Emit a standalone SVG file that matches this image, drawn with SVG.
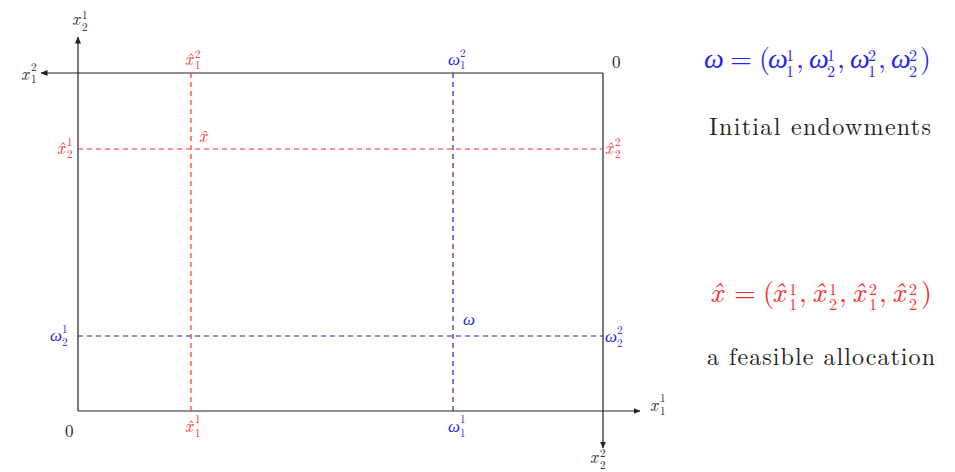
<svg xmlns="http://www.w3.org/2000/svg" width="955" height="472" viewBox="0 0 955 472">
<style>
.k{fill:#222;font-family:'Latin Modern Roman','Liberation Serif',serif}
.r{fill:#ff2a2a;font-family:'Latin Modern Roman','Liberation Serif',serif}
.b{fill:#2424f0;font-family:'Latin Modern Roman','Liberation Serif',serif}
.w{font-family:'Liberation Serif',serif}
.m{font-style:italic;font-size:17px}
.s{font-size:11px}
.M{font-style:italic;font-size:28px}
.S{font-size:16px}
.U{font-size:28px}
.t{font-size:24px}
.ax{stroke:#222;stroke-width:1.2;fill:none}
.rd{stroke:#ff3030;stroke-width:1.2;stroke-dasharray:5 4;fill:none}
.bd{stroke:#2020d8;stroke-width:1.2;stroke-dasharray:5 4;fill:none}
</style>
<defs>
<marker id="ar" markerWidth="7" markerHeight="6" refX="6.5" refY="3" orient="auto" markerUnits="userSpaceOnUse">
<path d="M0,0 L7,3 L0,6 Z" fill="#222"/>
</marker>
</defs>
<g id="connectors">
<line class="ax" x1="78" y1="411" x2="78" y2="37" marker-end="url(#ar)"/>
<line class="ax" x1="603" y1="73" x2="41" y2="73" marker-end="url(#ar)"/>
<line class="ax" x1="78" y1="411" x2="640" y2="411" marker-end="url(#ar)"/>
<line class="ax" x1="603" y1="73" x2="603" y2="448" marker-end="url(#ar)"/>
<line class="rd" x1="191" y1="73" x2="191" y2="411"/>
<line class="rd" x1="78" y1="149" x2="603" y2="149"/>
<line class="bd" x1="453" y1="73" x2="453" y2="411"/>
<line class="bd" x1="78" y1="336" x2="603" y2="336"/>
</g>
<g id="axis-labels">
<text class="m k" x="72" y="25">x</text><text class="s k" x="82" y="19">1</text><text class="s k" x="82" y="31">2</text>
<text class="m k" x="21" y="80">x</text><text class="s k" x="31" y="71">2</text><text class="s k" x="31" y="83">1</text>
<text class="m k" x="650" y="411">x</text><text class="s k" x="660" y="402">1</text><text class="s k" x="660" y="415">1</text>
<text class="m k" x="590" y="463">x</text><text class="s k" x="600" y="457">2</text><text class="s k" x="600" y="469">2</text>
<text class="k" x="612" y="68" font-size="17">0</text>
<text class="k" x="65" y="437" font-size="17">0</text>
</g>
<g id="xhat-labels">
<text class="m r" x="185" y="65">x̂</text><text class="s r" x="195" y="58">2</text><text class="s r" x="195" y="69">1</text>
<text class="m r" x="199" y="142">x̂</text>
<text class="m r" x="57" y="154">x̂</text><text class="s r" x="67" y="146">1</text><text class="s r" x="67" y="158">2</text>
<text class="m r" x="605" y="154">x̂</text><text class="s r" x="615" y="146">2</text><text class="s r" x="615" y="158">2</text>
<text class="m r" x="185" y="432">x̂</text><text class="s r" x="195" y="423">1</text><text class="s r" x="195" y="437">1</text>
</g>
<g id="omega-labels">
<text class="m b w" x="448" y="65">ω</text><text class="s b" x="460" y="57">2</text><text class="s b" x="460" y="69">1</text>
<text class="m b w" x="463" y="325">ω</text>
<text class="m b w" x="50" y="341">ω</text><text class="s b" x="62" y="333">1</text><text class="s b" x="62" y="346">2</text>
<text class="m b w" x="605" y="342">ω</text><text class="s b" x="617" y="334">2</text><text class="s b" x="617" y="347">2</text>
<text class="m b w" x="448" y="432">ω</text><text class="s b" x="460" y="423">1</text><text class="s b" x="460" y="437">1</text>
</g>
<g id="omega-formula">
<text class="M b w" x="704" y="68">ω</text>
<text class="U b" x="730" y="68">=</text>
<text class="U b" x="759" y="68">(</text>
<text class="M b w" x="768" y="68">ω</text><text class="S b" x="786" y="61">1</text><text class="S b" x="786" y="77">1</text><text class="U b" x="796" y="68">,</text>
<text class="M b w" x="809" y="68">ω</text><text class="S b" x="827" y="61">1</text><text class="S b" x="827" y="77">2</text><text class="U b" x="837" y="68">,</text>
<text class="M b w" x="850" y="68">ω</text><text class="S b" x="868" y="61">2</text><text class="S b" x="868" y="77">1</text><text class="U b" x="878" y="68">,</text>
<text class="M b w" x="891" y="68">ω</text><text class="S b" x="909" y="61">2</text><text class="S b" x="909" y="77">2</text>
<text class="U b" x="920" y="68">)</text>
</g>
<g id="endowment-text">
<text class="t k" x="820" y="135" text-anchor="middle" textLength="222">Initial endowments</text>
</g>
<g id="xhat-formula">
<text class="M r" x="710" y="302">x̂</text>
<text class="U r" x="734" y="302">=</text>
<text class="U r" x="763" y="302">(</text>
<text class="M r" x="772" y="302">x̂</text><text class="S r" x="789" y="295">1</text><text class="S r" x="789" y="310">1</text><text class="U r" x="799" y="302">,</text>
<text class="M r" x="812" y="302">x̂</text><text class="S r" x="829" y="295">1</text><text class="S r" x="829" y="310">2</text><text class="U r" x="839" y="302">,</text>
<text class="M r" x="852" y="302">x̂</text><text class="S r" x="869" y="295">2</text><text class="S r" x="869" y="310">1</text><text class="U r" x="879" y="302">,</text>
<text class="M r" x="892" y="302">x̂</text><text class="S r" x="909" y="295">2</text><text class="S r" x="909" y="310">2</text>
<text class="U r" x="921" y="302">)</text>
</g>
<g id="allocation-text">
<text class="t k" x="821" y="365" text-anchor="middle" textLength="228">a feasible allocation</text>
</g>
</svg>
